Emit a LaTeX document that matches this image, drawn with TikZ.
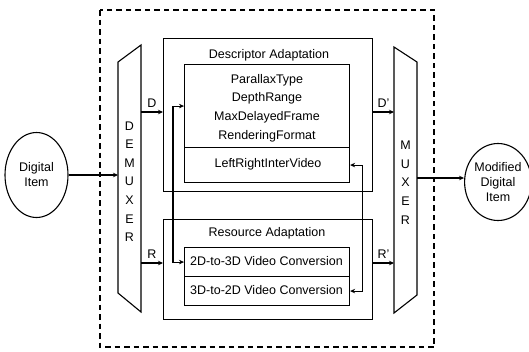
\documentclass[tikz,border=0pt]{standalone}
\usepackage{fontspec}
\setmainfont{Liberation Sans}
\usetikzlibrary{arrows.meta,shapes.geometric}
\begin{document}
\begin{tikzpicture}[x=1pt,y=-1pt,
  every node/.style={font=\fontsize{12.5}{15}\selectfont, inner sep=0pt},
  box/.style={draw, line width=1.1pt, rectangle, anchor=north west},
  con/.style={line width=1.1pt, -{Stealth[length=5pt,width=4.5pt]}},
  dcon/.style={line width=1.1pt, {Stealth[length=5pt,width=4.5pt]}-{Stealth[length=5pt,width=4.5pt]}},
  ell/.style={draw, ellipse, line width=1.1pt, align=center},
  frame/.style={line width=1.1pt, dash pattern=on 5.5pt off 4pt},
  mx/.style={line width=1.1pt},
  stack/.style={align=center, font=\fontsize{12.5}{18.6}\selectfont}]
\useasboundingbox (0,0) rectangle (529,351);

% dashed frame
\draw[frame] (100,10) rectangle (434,347);

% demuxer and muxer
\draw[mx] (118,62) -- (141,45) -- (141,312) -- (118,293) -- cycle;
\node[stack] (dmtext) at (129.5,181.5) {D\\E\\M\\U\\X\\E\\R};
\draw[mx] (394,47) -- (417,62) -- (417,295) -- (394,313) -- cycle;
\node[stack] (mxtext) at (405.5,182.5) {M\\U\\X\\E\\R};
\coordinate (dmIn) at (118,175);
\coordinate (dmD) at (141,112);
\coordinate (dmR) at (141,263);
\coordinate (mxD) at (394,112);
\coordinate (mxR) at (394,263);
\coordinate (mxOut) at (417,178);

% ellipses
\node[ell, minimum width=63pt, minimum height=85pt] (di) at (36.5,175) {Digital\\Item};
\node[ell, minimum width=60pt, minimum height=77pt] (mdi) at (498,182) {Modified\\Digital\\Item};

% descriptor adaptation
\node[box, minimum width=209pt, minimum height=153pt] (desc) at (163,38) {};
\node (desctitle) at (269,55) {Descriptor Adaptation};
\node[box, minimum width=165pt, minimum height=83pt] (dlist) at (184,64) {};
\node[stack] (dlisttext) at (267,108) {ParallaxType\\DepthRange\\MaxDelayedFrame\\RenderingFormat};
\node[box, minimum width=165pt, minimum height=35pt] (lrv) at (184,147) {};
\node (lrvtext) at (268,164) {LeftRightInterVideo};

% resource adaptation
\node[box, minimum width=209pt, minimum height=100pt] (res) at (163,219) {};
\node (restitle) at (267,233) {Resource Adaptation};
\node[box, minimum width=165pt, minimum height=29pt] (c23) at (184,247) {};
\node (c23text) at (266.5,261.5) {2D-to-3D Video Conversion};
\node[box, minimum width=165pt, minimum height=29pt] (c32) at (184,276) {};
\node (c32text) at (266.5,290.5) {3D-to-2D Video Conversion};

% connectors
\draw[con] (di) -- (dmIn);
\draw[con] (dmD) -- (dmD -| desc.west) node[midway, above=4pt] (lD) {D};
\draw[con] (dmR) -- (dmR -| res.west) node[midway, above=4pt] (lR) {R};
\draw[con] (dmD -| desc.east) -- (mxD) node[midway, above=4pt] (lD2) {D'};
\draw[con] (dmR -| res.east) -- (mxR) node[midway, above=4pt] (lR2) {R'};
\draw[con] (mxOut) -- (mxOut -| mdi.west);
\draw[dcon] (dlist.west) -- ++(-11,0) |- (c23.west);
\draw[dcon] (lrv.east) -- ++(12,0) |- (c32.east);
\end{tikzpicture}
\end{document}
